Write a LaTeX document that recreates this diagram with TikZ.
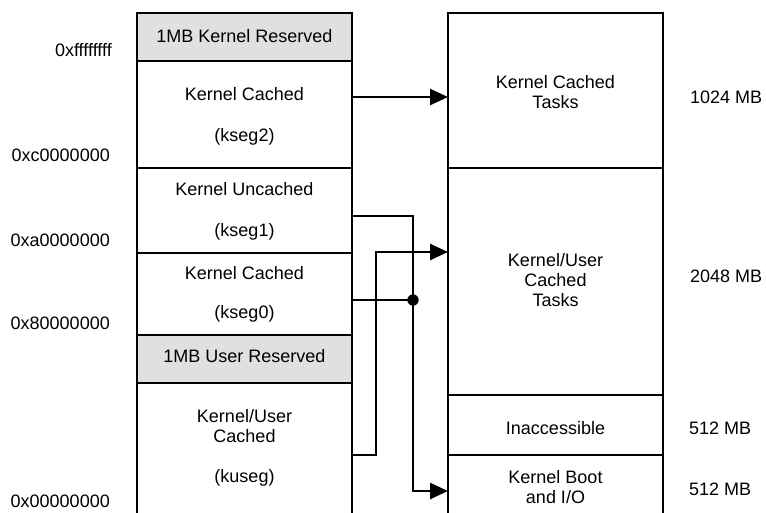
\documentclass[tikz,border=0pt]{standalone}
\usepackage{fontspec}
\setmainfont{Liberation Sans}
\usetikzlibrary{arrows.meta}
\definecolor{resgray}{HTML}{E0E0E0}
\begin{document}
\begin{tikzpicture}[x=1pt,y=-1pt,
  seg/.style={draw=black, line width=2.8pt, inner sep=0pt, outer sep=0pt, minimum width=215pt, anchor=north west},
  lbl/.style={font=\fontsize{18}{20}\selectfont, inner sep=0pt, align=center},
  conn/.style={line width=2.6pt},
  arr/.style={conn, -{Triangle[length=18pt,width=16pt]}}]
\useasboundingbox (0,0) rectangle (766,512);
\begin{scope}
\clip (0,0) rectangle (766,512);
% left column
\node[seg, fill=resgray, minimum height=48pt]  (kres)  at (137,13)  {};
\node[seg, minimum height=107pt] (kseg2) at (137,61)  {};
\node[seg, minimum height=85pt]  (kseg1) at (137,168) {};
\node[seg, minimum height=82pt]  (kseg0) at (137,253) {};
\node[seg, fill=resgray, minimum height=48pt]  (ures)  at (137,335) {};
\node[seg, minimum height=140pt] (kuseg) at (137,383) {};
% right column
\node[seg, minimum height=155pt] (kct)   at (448,13)  {};
\node[seg, minimum height=227pt] (kuct)  at (448,168) {};
\node[seg, minimum height=60pt]  (inacc) at (448,395) {};
\node[seg, minimum height=70pt]  (kboot) at (448,455) {};
\end{scope}
% texts in left column
\node[lbl] (t1) at (244.5,36)  {1MB Kernel Reserved};
\node[lbl] (t2) at (244.5,94)  {Kernel Cached};
\node[lbl] (t3) at (244.5,137) {(kseg2)};
\node[lbl] (t4) at (244.5,189) {Kernel Uncached};
\node[lbl] (t5) at (244.5,232) {(kseg1)};
\node[lbl] (t6) at (244.5,273) {Kernel Cached};
\node[lbl] (t7) at (244.5,314) {(kseg0)};
\node[lbl] (t8) at (244.5,356) {1MB User Reserved};
\node[lbl] (t9) at (244.5,426) {Kernel/User\\Cached};
\node[lbl] (t10) at (244.5,478) {(kuseg)};
% texts in right column
\node[lbl] (r1t) at (555.5,92)  {Kernel Cached\\Tasks};
\node[lbl] (r2t) at (555.5,280) {Kernel/User\\Cached\\Tasks};
\node[lbl] (r3t) at (555.5,428) {Inaccessible};
\node[lbl] (r4t) at (555.5,487) {Kernel Boot\\and I/O};
% address labels
\node[lbl, anchor=east] (a1) at (112,50)  {0xffffffff};
\node[lbl, anchor=east] (a2) at (110,155) {0xc0000000};
\node[lbl, anchor=east] (a3) at (110,240) {0xa0000000};
\node[lbl, anchor=east] (a4) at (110,323) {0x80000000};
\node[lbl, anchor=east] (a5) at (110,501) {0x00000000};
% size labels
\node[lbl, anchor=west] (s1) at (690,97)  {1024 MB};
\node[lbl, anchor=west] (s2) at (690,276) {2048 MB};
\node[lbl, anchor=west] (s3) at (689,428) {512 MB};
\node[lbl, anchor=west] (s4) at (689,489) {512 MB};
% connector helper coordinates
\coordinate (y97) at (0,97);
\coordinate (y216) at (0,216);
\coordinate (y300) at (0,300);
\coordinate (y455) at (0,455);
\coordinate (y252) at (0,252);
\coordinate (y491) at (0,491);
\coordinate (vA) at (413,0);
\coordinate (vB) at (376,0);
\coordinate (j) at (vA |- y300);
% connectors
\draw[arr] (kseg2.east |- y97) -- (kct.west |- y97);
\draw[arr] (kseg1.east |- y216) -| (vA |- y491) -- (kboot.west |- y491);
\draw[conn] (kseg0.east |- y300) -- (j);
\fill (j) circle (5.7pt);
\draw[arr] (kuseg.east |- y455) -| (vB |- y252) -- (kuct.west |- y252);
\end{tikzpicture}
\end{document}
